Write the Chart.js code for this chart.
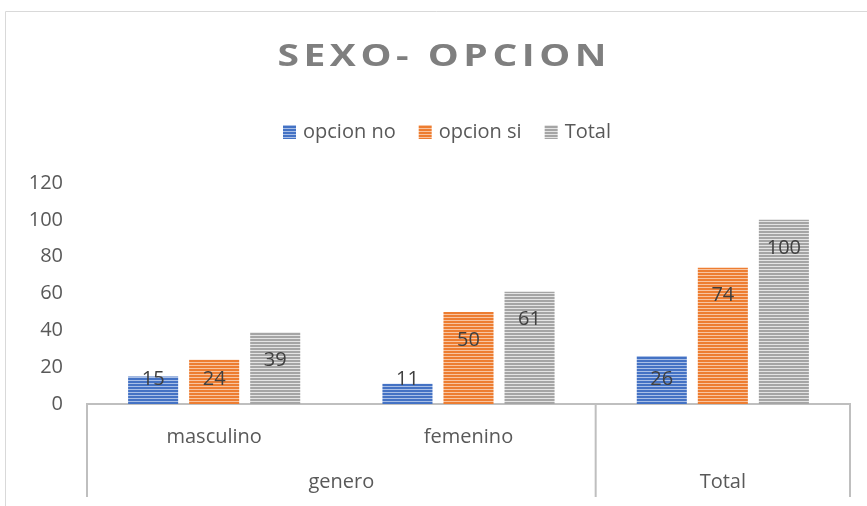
<!DOCTYPE html>
<html>
<head>
<meta charset="utf-8">
<script src="https://cdn.jsdelivr.net/npm/chart.js@4.4.0/dist/chart.umd.min.js"></script>
<style>
    html, body { margin: 0; padding: 0; background: #ffffff; }
    canvas { display: block; }
</style>
</head>
<body>
<canvas id="chart" width="867" height="506"></canvas>
<script>
// ===== DATA =====
// inner level of the category axis ("Total" has no inner label)
const categories = ['masculino', 'femenino', ''];
const groupLabels = ['genero', 'Total'];
const groupSpans = [2, 1];
const seriesLabels = ['opcion no', 'opcion si', 'Total'];
const opcionNo = [15, 11, 26];
const opcionSi = [24, 50, 74];
const totalValues = [39, 61, 100];
const yTicks = [0, 20, 40, 60, 80, 100, 120];

const titleText = 'SEXO- OPCION';
const fontFamily = "'Open Sans', 'DejaVu Sans', sans-serif";
const textColor = '#595959';
const lineColor = '#bfbfbf';

// Horizontal striped fill, like the Excel pattern fill
function makeStripes(color, light) {
    const c = document.createElement('canvas');
    c.width = 4;
    c.height = 3;
    const g = c.getContext('2d');
    g.fillStyle = color;
    g.fillRect(0, 0, 4, 3);
    g.fillStyle = light;
    g.fillRect(0, 2, 4, 1);
    return g.createPattern(c, 'repeat');
}

const blueFill = makeStripes('#4472c4', '#a9bfe6');
const orangeFill = makeStripes('#ed7d31', '#f8c4a0');
const grayFill = makeStripes('#a5a5a5', '#e4e4e4');

// Title, legend, frame
const decorPlugin = {
    id: 'decor',
    afterDraw(chart) {
        const ctx = chart.ctx;
        ctx.save();

        // outer frame (cut by the window on the right/bottom)
        ctx.strokeStyle = '#d9d9d9';
        ctx.lineWidth = 1;
        ctx.beginPath();
        ctx.moveTo(5.5, 506);
        ctx.lineTo(5.5, 11.5);
        ctx.lineTo(867, 11.5);
        ctx.stroke();

        // title: wide bold letters with some spacing
        ctx.save();
        ctx.font = 'bold 30px ' + fontFamily;
        ctx.fillStyle = '#7f7f7f';
        ctx.textBaseline = 'middle';
        ctx.textAlign = 'left';
        const spacing = 3.5;
        const stretch = 1.3;
        ctx.letterSpacing = spacing + 'px';
        const tw = (ctx.measureText(titleText).width - spacing) * stretch;
        ctx.translate(442 - tw / 2, 57);
        ctx.scale(stretch, 1);
        ctx.fillText(titleText, 0, 0);
        ctx.restore();

        // legend
        ctx.font = '20px ' + fontFamily;
        ctx.textBaseline = 'middle';
        ctx.textAlign = 'left';
        const boxW = 13, boxH = 14, boxGap = 7, itemGap = 23;
        const items = chart.data.datasets.map(ds => ({
            label: ds.label,
            fill: ds.backgroundColor,
            w: boxW + boxGap + ctx.measureText(ds.label).width
        }));
        const totalW = items.reduce((s, it) => s + it.w, 0) + itemGap * (items.length - 1);
        let x = 447 - totalW / 2;
        items.forEach(it => {
            ctx.fillStyle = it.fill;
            ctx.fillRect(x, 125, boxW, boxH);
            ctx.fillStyle = textColor;
            ctx.fillText(it.label, x + boxW + boxGap, 132);
            x += it.w + itemGap;
        });
        ctx.restore();
    }
};

// Multi-level category axis: separators + outer labels
const groupAxisPlugin = {
    id: 'groupAxis',
    afterDraw(chart) {
        const ctx = chart.ctx;
        const xs = chart.scales.x;
        const step = xs.getPixelForValue(1) - xs.getPixelForValue(0);
        const edge = i => xs.getPixelForValue(i) - step / 2;
        const top = chart.chartArea.bottom;
        const bottom = 497;

        ctx.save();
        ctx.strokeStyle = lineColor;
        ctx.lineWidth = 2;
        ctx.font = '20px ' + fontFamily;
        ctx.fillStyle = textColor;
        ctx.textAlign = 'center';
        ctx.textBaseline = 'middle';

        let start = 0;
        const bounds = [edge(0)];
        groupSpans.forEach((span, g) => {
            const left = edge(start);
            const right = edge(start + span);
            bounds.push(right);
            ctx.fillText(groupLabels[g], (left + right) / 2, 482);
            start += span;
        });
        bounds.forEach(b => {
            ctx.beginPath();
            ctx.moveTo(b, top);
            ctx.lineTo(b, bottom);
            ctx.stroke();
        });
        ctx.restore();
    }
};

// Value labels inside the bar ends
const valueLabelPlugin = {
    id: 'valueLabels',
    afterDatasetsDraw(chart) {
        const ctx = chart.ctx;
        ctx.save();
        ctx.font = '20px ' + fontFamily;
        ctx.fillStyle = '#404040';
        ctx.textAlign = 'center';
        ctx.textBaseline = 'middle';
        chart.data.datasets.forEach((ds, di) => {
            chart.getDatasetMeta(di).data.forEach((bar, i) => {
                const y = Math.min(bar.y + 28, bar.base - 25);
                ctx.fillText(String(ds.data[i]), bar.x, y);
            });
        });
        ctx.restore();
    }
};

const barStyle = {
    borderWidth: 0,
    categoryPercentage: 0.72,
    barPercentage: 0.82
};

new Chart(document.getElementById('chart'), {
    type: 'bar',
    data: {
        labels: categories,
        datasets: [
            { label: seriesLabels[0], data: opcionNo, backgroundColor: blueFill, ...barStyle },
            { label: seriesLabels[1], data: opcionSi, backgroundColor: orangeFill, ...barStyle },
            { label: seriesLabels[2], data: totalValues, backgroundColor: grayFill, ...barStyle }
        ]
    },
    options: {
        responsive: false,
        animation: false,
        layout: {
            padding: { top: 183, right: 17, bottom: 0, left: 0 }
        },
        plugins: {
            legend: { display: false },
            title: { display: false },
            tooltip: { enabled: false }
        },
        scales: {
            x: {
                grid: { display: false },
                border: { display: true, color: lineColor, width: 2 },
                ticks: {
                    color: textColor,
                    font: { family: fontFamily, size: 20 },
                    padding: 13,
                    maxRotation: 0
                },
                afterFit: (scale) => { scale.height = 102; }
            },
            y: {
                min: yTicks[0],
                max: yTicks[yTicks.length - 1],
                grid: { display: false, drawTicks: false },
                border: { display: false },
                afterBuildTicks: (scale) => {
                    scale.ticks = yTicks.map(v => ({ value: v }));
                },
                ticks: {
                    color: textColor,
                    font: { family: fontFamily, size: 20 },
                    padding: 24
                },
                afterFit: (scale) => { scale.width = 87; }
            }
        }
    },
    plugins: [decorPlugin, groupAxisPlugin, valueLabelPlugin]
});
</script>
</body>
</html>
